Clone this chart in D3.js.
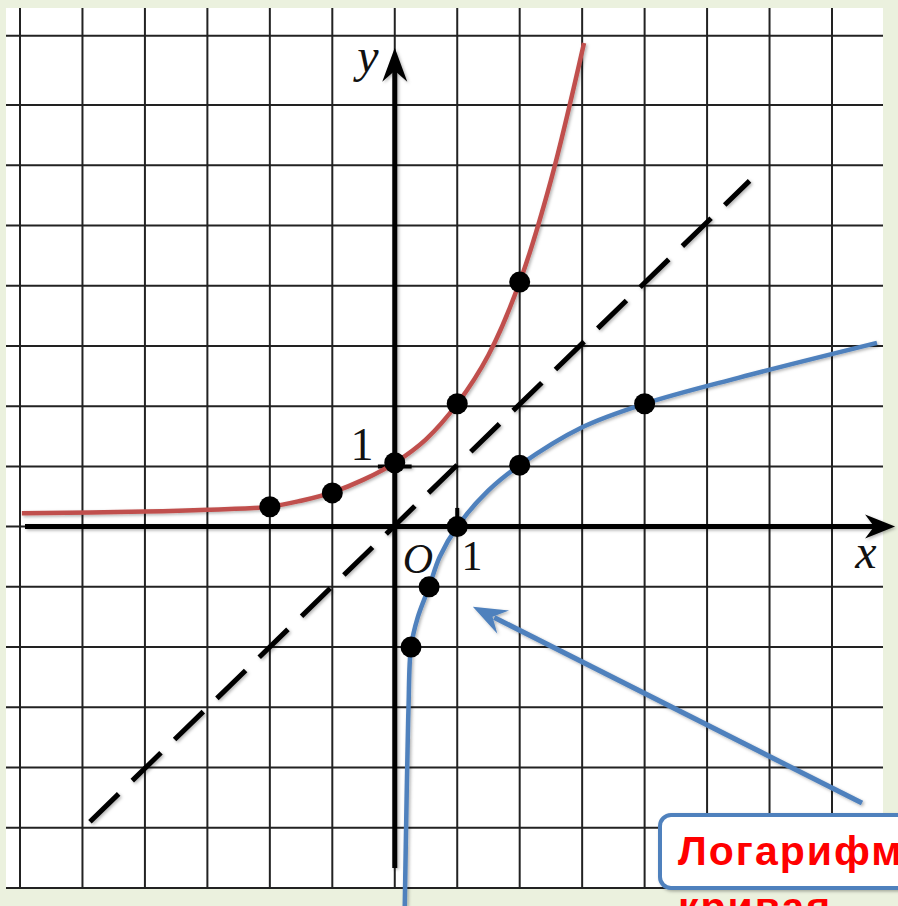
<!DOCTYPE html>
<html>
<head>
<meta charset="utf-8">
<script src="https://cdn.jsdelivr.net/npm/d3@7"></script>
<style>
  html, body { margin: 0; padding: 0; background: #ebf1de; overflow: hidden; }
  svg { display: block; }
</style>
</head>
<body>
<svg id="chart"></svg>
<script>
// grid lines (in units)
const gridX = [-6, -5, -4, -3, -2, -1, 0, 1, 2, 3, 4, 5, 6, 7];
const gridY = [-6, -5, -4, -3, -2, -1, 0, 1, 2, 3, 4, 5, 6, 7, 8.15];

// red curve (exponential)
const redX = [-5.97, -4, -3, -2, -1.5, -1, -0.5, 0, 0.5, 1, 1.5, 2, 2.5, 3.03];
const redY = [0.22, 0.25, 0.28, 0.33, 0.43, 0.57, 0.78, 1.06, 1.45, 2.04, 2.85, 4.06, 5.75, 8.03];
const redDotX = [-2, -1, 0, 1, 2];
const redDotY = [0.33, 0.56, 1.06, 2.04, 4.06];

// blue curve (logarithm)
const blueX = [0.16, 0.195, 0.22, 0.26, 0.37, 0.55, 0.72, 1, 1.5, 2, 3, 4, 5.5, 7.72];
const blueY = [-6.3, -4.2, -3, -2, -1.5, -1, -0.5, 0, 0.6, 1.02, 1.65, 2.04, 2.47, 3.05];
const blueDotX = [0.26, 0.55, 1, 2, 4];
const blueDotY = [-2, -1, 0, 1.02, 2.04];

// dashed line y = x
const diagX = [-4.88, 5.68];
const diagY = [-4.9, 5.74];

// pointer arrow (tail, tip)
const pointerX = [7.48, 1.25];
const pointerY = [-4.59, -1.33];

const labelLines = ["Логарифмическая", "кривая"];

const width = 898, height = 906;
const red = "#c0504d", blue = "#4f81bd";

const x = d3.scaleLinear().domain([-6, 7]).range([20, 832]);
const y = d3.scaleLinear().domain([-6, 7]).range([888, 105]);

const svg = d3.select("#chart").attr("width", width).attr("height", height);

const defs = svg.append("defs");
const f = defs.append("filter").attr("id", "sh")
  .attr("x", "-20%").attr("y", "-20%").attr("width", "140%").attr("height", "140%");
f.append("feDropShadow").attr("dx", 1.5).attr("dy", 1.5).attr("stdDeviation", 1.5)
  .attr("flood-color", "#000").attr("flood-opacity", 0.3);

// white sheet
svg.append("rect").attr("x", 6).attr("y", 8).attr("width", 877).attr("height", 879).attr("fill", "#fff");

// grid
const grid = svg.append("g").attr("stroke", "#222").attr("stroke-width", 2);
grid.selectAll("line.v").data(gridX).join("line").attr("class", "v")
  .attr("x1", d => x(d)).attr("x2", d => x(d)).attr("y1", 8).attr("y2", 887);
grid.selectAll("line.h").data(gridY).join("line").attr("class", "h")
  .attr("y1", d => y(d)).attr("y2", d => y(d)).attr("x1", 6).attr("x2", 883);

// dashed y = x
svg.append("line")
  .attr("x1", x(diagX[0])).attr("y1", y(diagY[0]))
  .attr("x2", x(diagX[1])).attr("y2", y(diagY[1]))
  .attr("stroke", "#000").attr("stroke-width", 5)
  .attr("stroke-dasharray", "40 19").attr("filter", "url(#sh)");

// arrowhead helper: tip + direction angle
function arrowHead(tx, ty, ang, len, half, notch) {
  const c = Math.cos(ang), s = Math.sin(ang);
  const pt = (a, b) => [tx + a * c - b * s, ty + a * s + b * c];
  const p = [pt(0, 0), pt(-len, -half), pt(-notch, 0), pt(-len, half)];
  return "M" + p.map(q => q.join(",")).join("L") + "Z";
}

// axes
const axes = svg.append("g").attr("filter", "url(#sh)");
const xTip = x(8.01), yTip = y(7.95);
axes.append("line").attr("x1", x(-5.92)).attr("x2", xTip - 20).attr("y1", y(0)).attr("y2", y(0))
  .attr("stroke", "#000").attr("stroke-width", 5);
axes.append("path").attr("d", arrowHead(xTip, y(0), 0, 30, 12, 21)).attr("fill", "#000");
axes.append("line").attr("x1", x(0)).attr("x2", x(0)).attr("y1", y(-5.67)).attr("y2", yTip + 20)
  .attr("stroke", "#000").attr("stroke-width", 5);
axes.append("path").attr("d", arrowHead(x(0), yTip, -Math.PI / 2, 34, 12.5, 23)).attr("fill", "#000");

// unit ticks
axes.append("line").attr("x1", x(-0.27)).attr("x2", x(0.27)).attr("y1", y(1)).attr("y2", y(1))
  .attr("stroke", "#000").attr("stroke-width", 4);
axes.append("line").attr("x1", x(1)).attr("x2", x(1)).attr("y1", y(0.31)).attr("y2", y(-0.14))
  .attr("stroke", "#000").attr("stroke-width", 4);

// curves
const line = d3.line().x(d => x(d[0])).y(d => y(d[1])).curve(d3.curveCatmullRom.alpha(0.5));
svg.append("path").attr("d", line(d3.zip(redX, redY)))
  .attr("fill", "none").attr("stroke", red).attr("stroke-width", 4.5).attr("filter", "url(#sh)");
svg.append("path").attr("d", line(d3.zip(blueX, blueY)))
  .attr("fill", "none").attr("stroke", blue).attr("stroke-width", 4.5).attr("filter", "url(#sh)");

// dots
const dots = d3.zip(redDotX, redDotY).concat(d3.zip(blueDotX, blueDotY));
svg.append("g").selectAll("circle").data(dots).join("circle")
  .attr("cx", d => x(d[0])).attr("cy", d => y(d[1])).attr("r", 10.5).attr("fill", "#000");

// math labels
const lab = svg.append("g").attr("font-family", "'Liberation Serif', 'DejaVu Serif', serif")
  .attr("fill", "#111").attr("text-anchor", "middle");
lab.append("text").attr("x", 368).attr("y", 72).attr("font-size", 48).attr("font-style", "italic").text("y");
lab.append("text").attr("x", 866).attr("y", 568).attr("font-size", 48).attr("font-style", "italic").text("x");
lab.append("text").attr("x", 362).attr("y", 460).attr("font-size", 46).text("1");
lab.append("text").attr("x", 472).attr("y", 570).attr("font-size", 42).text("1");
lab.append("text").attr("x", 418).attr("y", 573).attr("font-size", 42).attr("font-style", "italic").text("O");

// pointer arrow
const ptail = [x(pointerX[0]), y(pointerY[0])], ptip = [x(pointerX[1]), y(pointerY[1])];
const pang = Math.atan2(ptip[1] - ptail[1], ptip[0] - ptail[0]);
const pg = svg.append("g").attr("filter", "url(#sh)");
pg.append("line").attr("x1", ptail[0]).attr("y1", ptail[1])
  .attr("x2", ptip[0] - 24 * Math.cos(pang)).attr("y2", ptip[1] - 24 * Math.sin(pang))
  .attr("stroke", blue).attr("stroke-width", 5);
pg.append("path").attr("d", arrowHead(ptip[0], ptip[1], pang, 34, 13, 22)).attr("fill", blue);

// callout box
svg.append("rect").attr("x", 660).attr("y", 815).attr("width", 400).attr("height", 73).attr("rx", 11)
  .attr("fill", "#fff").attr("stroke", blue).attr("stroke-width", 4).attr("filter", "url(#sh)");
svg.append("g").attr("font-family", "'Liberation Sans', Arial, sans-serif").attr("font-weight", "bold")
  .attr("font-size", 41).attr("letter-spacing", 2).attr("fill", "#ff0000")
  .selectAll("text").data(labelLines).join("text")
  .attr("x", 678).attr("y", (d, i) => 865 + i * 56).text(d => d);
</script>
</body>
</html>
